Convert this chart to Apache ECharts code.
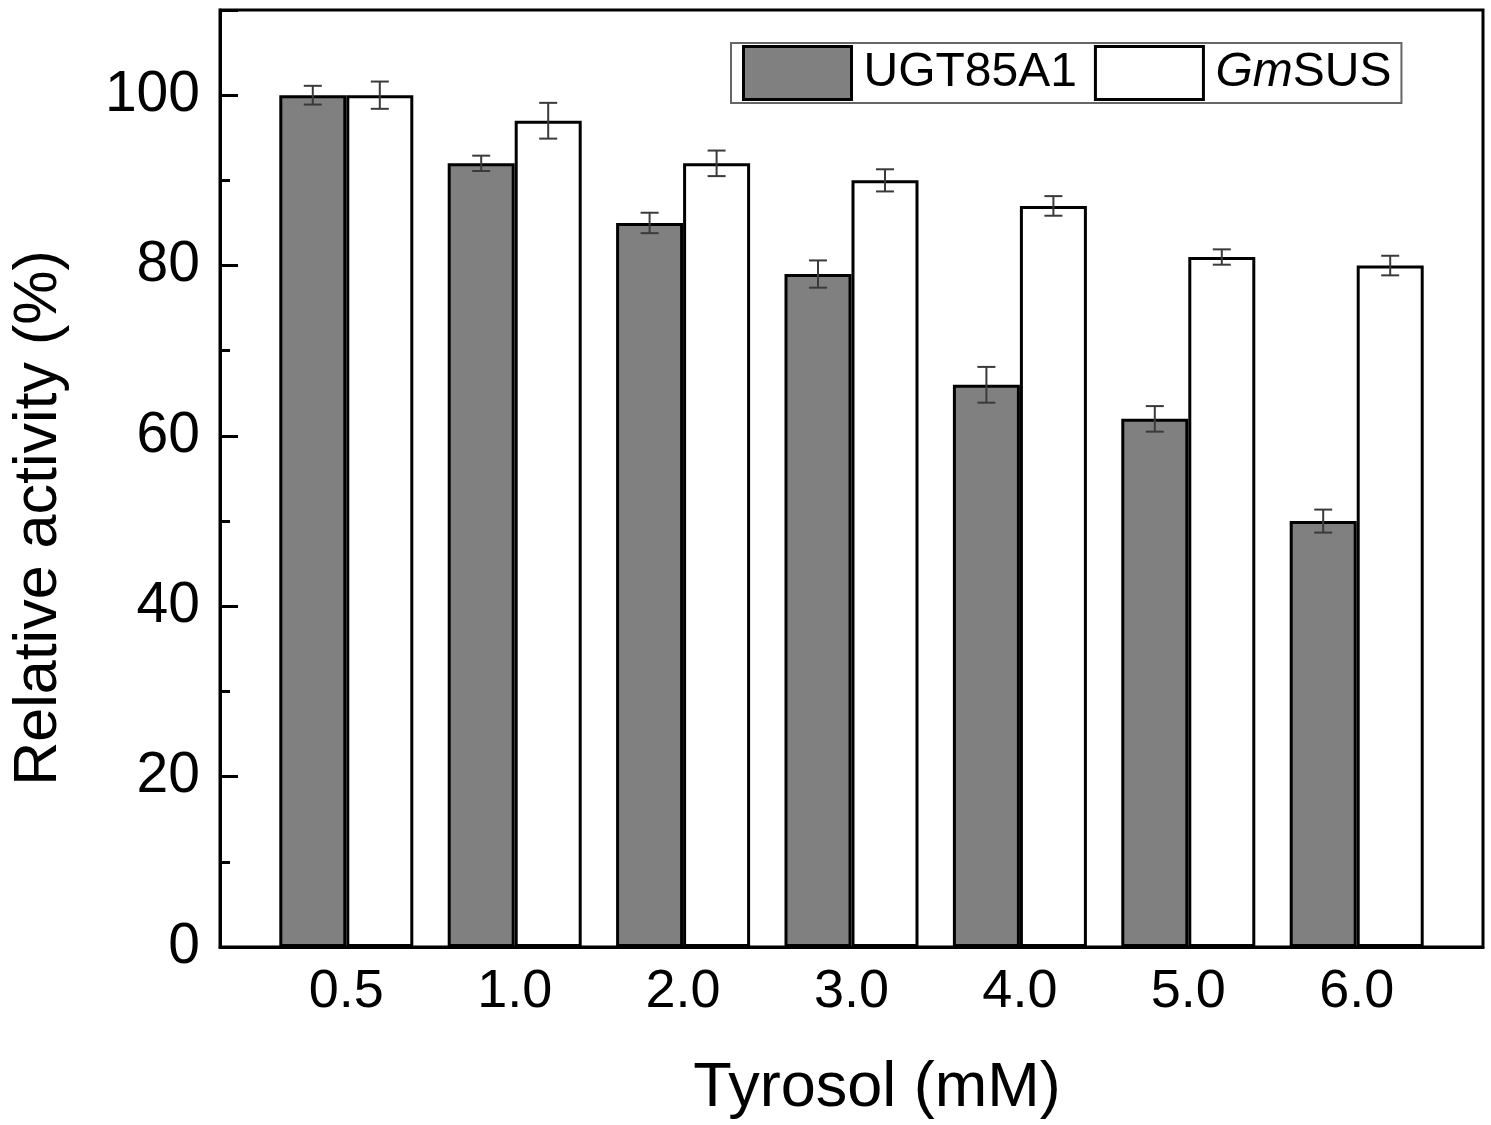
<!DOCTYPE html>
<html>
<head>
<meta charset="utf-8">
<script src="https://cdn.jsdelivr.net/npm/echarts@6/dist/echarts.min.js"></script>
<style>
  html, body { margin: 0; padding: 0; background: #fff; }
  #chart { width: 1491px; height: 1125px; }
</style>
</head>
<body>
<div id="chart"></div>
<script>
// 数据
const categories = ['0.5', '1.0', '2.0', '3.0', '4.0', '5.0', '6.0'];
const ugtValues = [100, 92, 85, 79, 66, 62, 50];
const ugtErrors = [1.1, 0.9, 1.2, 1.6, 2.1, 1.5, 1.35];
const susValues = [100, 97, 92, 90, 87, 81, 80];
const susErrors = [1.6, 2.1, 1.5, 1.3, 1.15, 0.9, 1.15];

const FONT = '"Liberation Sans", Arial, sans-serif';
const BAR_W = 67;

// 柱子放在 x = 1..7
function toPairs (vals) {
  return vals.map((v, i) => [i + 1, v])
}
function toErr (vals, errs) {
  return vals.map((v, i) => [i + 1, v - errs[i], v + errs[i]])
}

// 误差棒, shift: 相对组中心的像素偏移
function errorBar (data, shift) {
  return {
    type: 'custom',
    data: data,
    z: 10,
    silent: true,
    renderItem: function (params, api) {
      let x = api.value(0)
      let lo = api.coord([x, api.value(1)])
      let hi = api.coord([x, api.value(2)])
      let cx = lo[0] + shift
      let half = 9
      let style = { stroke: '#3a3a3a', lineWidth: 2 }
      return {
        type: 'group',
        children: [
          { type: 'line', shape: { x1: cx, y1: lo[1], x2: cx, y2: hi[1] }, style: style },
          { type: 'line', shape: { x1: cx - half, y1: lo[1], x2: cx + half, y2: lo[1] }, style: style },
          { type: 'line', shape: { x1: cx - half, y1: hi[1], x2: cx + half, y2: hi[1] }, style: style }
        ]
      }
    }
  }
}

const chart = echarts.init(document.getElementById('chart'));
const option = {
  backgroundColor: '#fff',
  animation: false,
  grid: {
    left: 220, right: 8, top: 10, bottom: 178,
    show: true, borderColor: '#000', borderWidth: 3
  },
  legend: {
    data: ['UGT85A1', 'GmSUS'],
    left: 731, top: 43,
    orient: 'horizontal',
    icon: 'rect',
    itemWidth: 108, itemHeight: 53, itemGap: 17,
    padding: [2, 10, 2, 11],
    borderColor: '#666', borderWidth: 2,
    selectedMode: false,
    itemStyle: { borderColor: '#000', borderWidth: 3 },
    formatter: function (name) {
      return name === 'GmSUS' ? '{i|Gm}{n|SUS}' : '{n|' + name + '}'
    },
    textStyle: {
      fontFamily: FONT, fontSize: 48, color: '#000',
      padding: [0, 0, 0, 7],
      rich: {
        i: { fontFamily: FONT, fontSize: 48, fontStyle: 'italic', color: '#000' },
        n: { fontFamily: FONT, fontSize: 48, color: '#000' }
      }
    }
  },
  xAxis: {
    type: 'value',
    min: 0.25, max: 7.75, interval: 0.25,
    splitLine: { show: false },
    axisTick: { show: false },
    axisLine: { lineStyle: { color: '#000', width: 3 } },
    axisLabel: {
      fontFamily: FONT, fontSize: 54, color: '#000', margin: 18,
      showMinLabel: true, showMaxLabel: true,
      formatter: function (v) {
        return Number.isInteger(v) && v >= 1 && v <= categories.length ? categories[v - 1] : ''
      }
    }
  },
  yAxis: {
    type: 'value',
    min: 0, max: 110, interval: 20,
    splitLine: { show: false },
    axisLine: { show: true, lineStyle: { color: '#000', width: 3 } },
    axisTick: { show: true, inside: true, length: 18, lineStyle: { color: '#000', width: 3 } },
    minorTick: { show: true, splitNumber: 2, length: 10, lineStyle: { color: '#000', width: 3 } },
    axisLabel: {
      fontFamily: FONT, fontSize: 57, color: '#000', margin: 20,
      formatter: function (v) { return v > 100 ? '' : v }
    }
  },
  graphic: [
    {
      type: 'text', x: 877, y: 1057,
      style: {
        text: 'Tyrosol (mM)', font: '63px ' + FONT, fill: '#000',
        align: 'center', verticalAlign: 'top'
      }
    },
    {
      type: 'text', x: 9, y: 518, rotation: Math.PI / 2,
      style: {
        text: 'Relative activity (%)', font: '61px ' + FONT, fill: '#000',
        align: 'center', verticalAlign: 'top'
      }
    }
  ],
  series: [
    {
      name: 'UGT85A1', type: 'bar', data: toPairs(ugtValues),
      barWidth: BAR_W, barGap: '0%',
      itemStyle: { color: '#808080', borderColor: '#000', borderWidth: 3 }
    },
    {
      name: 'GmSUS', type: 'bar', data: toPairs(susValues),
      barWidth: BAR_W, barGap: '0%',
      itemStyle: { color: '#fff', borderColor: '#000', borderWidth: 3 }
    },
    errorBar(toErr(ugtValues, ugtErrors), -BAR_W / 2),
    errorBar(toErr(susValues, susErrors), BAR_W / 2)
  ]
};
chart.setOption(option);
</script>
</body>
</html>
